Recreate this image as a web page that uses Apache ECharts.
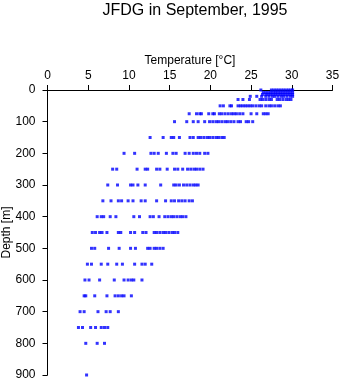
<!DOCTYPE html>
<html>
<head>
<meta charset="utf-8">
<script src="https://cdn.jsdelivr.net/npm/echarts@6/dist/echarts.min.js"></script>
<style>
html,body{margin:0;padding:0;background:#fff;}
#c{width:341px;height:384px;}
</style>
</head>
<body>
<div id="c"></div>
<script>
// Depth levels [m]
const depthLevels = [0, 8, 14, 20, 30, 50, 75, 100, 150, 200, 250, 300, 350, 400, 450, 500, 550, 600, 650, 700, 750, 800, 900];
// Temperatures [°C] observed at each depth level
const temp_0 = [26.2, 27.5, 27.8, 28.1, 28.4, 28.7, 29.0, 29.3, 29.6, 29.9, 30.1];
const temp_8 = [26.5, 26.8, 27.1, 27.4, 27.7, 28.0, 28.3, 28.6, 28.9, 29.2, 29.5, 29.8, 30.1];
const temp_14 = [26.4, 26.8, 27.1, 27.4, 27.7, 28.0, 28.3, 28.6, 28.9, 29.2, 29.5, 29.8, 30.1];
const temp_20 = [24.9, 25.7, 26.3, 26.8, 27.2, 27.6, 27.9, 28.3, 28.7, 29.0, 29.4, 29.8, 30.1];
const temp_30 = [23.4, 24.0, 24.8, 26.1, 26.4, 26.8, 27.2, 27.5, 28.2, 28.5, 28.9, 29.3, 29.6, 29.9];
const temp_50 = [21.2, 21.6, 22.4, 22.6, 23.4, 23.7, 24.0, 24.3, 24.6, 24.9, 25.2, 25.6, 26.0, 26.3, 26.8, 27.2, 27.5, 27.9, 28.3, 28.6];
const temp_75 = [17.4, 18.3, 18.7, 18.9, 19.8, 20.3, 20.5, 21.1, 21.4, 21.8, 22.2, 22.6, 22.9, 23.2, 23.6, 24.0, 25.0, 25.7, 26.5, 26.8, 27.1];
const temp_100 = [15.6, 17.1, 17.9, 18.5, 19.3, 19.9, 20.3, 20.7, 21.0, 21.4, 21.8, 22.1, 22.5, 22.9, 23.4, 23.7, 24.4, 24.7, 25.2];
const temp_150 = [12.6, 14.2, 15.2, 15.5, 16.2, 17.5, 17.9, 18.5, 18.8, 19.2, 19.6, 19.9, 20.3, 20.7, 21.0, 21.4, 21.7];
const temp_200 = [9.4, 10.7, 12.7, 13.1, 13.6, 14.6, 15.4, 15.8, 16.9, 17.4, 17.9, 18.3, 18.7, 19.3, 19.7];
const temp_250 = [8.0, 8.5, 11.0, 12.0, 12.3, 13.4, 13.8, 14.7, 15.6, 16.0, 16.6, 17.2, 17.6, 18.0, 18.3, 18.7, 19.1];
const temp_300 = [7.4, 8.6, 10.2, 10.5, 11.1, 12.0, 13.9, 15.5, 15.8, 16.2, 16.7, 17.1, 17.5, 17.9, 18.2, 18.5];
const temp_350 = [6.8, 7.8, 8.7, 9.1, 9.9, 10.5, 11.5, 12.0, 13.4, 14.5, 15.2, 15.6, 16.1, 16.5, 16.9, 17.4, 17.8];
const temp_400 = [6.1, 6.6, 6.9, 7.7, 8.4, 10.6, 11.3, 12.6, 13.0, 13.7, 14.4, 14.8, 15.2, 15.5, 15.9, 16.3, 16.6, 17.0];
const temp_450 = [5.5, 5.9, 6.4, 6.7, 7.3, 8.7, 9.0, 10.2, 10.7, 11.7, 12.1, 13.1, 13.4, 13.8, 14.2, 14.5, 14.9, 15.3, 15.6, 16.0];
const temp_500 = [5.4, 5.8, 7.5, 8.8, 10.2, 10.8, 12.3, 12.6, 13.1, 13.4, 13.8, 14.2];
const temp_550 = [4.9, 5.4, 6.6, 7.4, 8.5, 9.2, 10.7, 11.6, 12.0, 12.8];
const temp_600 = [4.6, 5.1, 6.4, 8.2, 9.4, 9.9, 10.3, 10.6, 11.6];
const temp_650 = [4.5, 4.7, 5.8, 7.3, 8.3, 8.7, 9.1, 9.4, 10.3];
const temp_700 = [4.0, 4.5, 6.2, 7.2, 7.7, 8.7];
const temp_750 = [3.8, 4.3, 5.3, 5.9, 6.6, 7.0, 7.4];
const temp_800 = [4.7, 6.1, 7.0];
const temp_900 = [4.8];

const tempsByLevel = [temp_0, temp_8, temp_14, temp_20, temp_30, temp_50, temp_75, temp_100, temp_150, temp_200,
  temp_250, temp_300, temp_350, temp_400, temp_450, temp_500, temp_550, temp_600, temp_650, temp_700,
  temp_750, temp_800, temp_900];

const points = [];
depthLevels.forEach((d, i) => { tempsByLevel[i].forEach(t => points.push([t, d])); });

const FONT = 'Liberation Sans';
const chart = echarts.init(document.getElementById('c'), null, {renderer: 'canvas'});
chart.setOption({
  animation: false,
  backgroundColor: '#ffffff',
  title: {
    text: 'JFDG in September, 1995',
    left: 190, top: -2, textAlign: 'center',
    textStyle: {fontFamily: FONT, fontSize: 16, fontWeight: 'normal', color: '#000'}
  },
  grid: {left: 47.5, right: 8.5, top: 90, bottom: 9, containLabel: false, outerBoundsMode: 'none'},
  xAxis: {
    type: 'value', position: 'top', min: 0, max: 35, interval: 5,
    name: 'Temperature [°C]', nameLocation: 'middle', nameGap: 23, nameMoveOverlap: false,
    nameTextStyle: {fontFamily: FONT, fontSize: 12, color: '#000'},
    axisLine: {show: true, onZero: false, lineStyle: {color: '#000', width: 1}},
    axisTick: {show: true, inside: false, length: 5, lineStyle: {color: '#000'}},
    axisLabel: {margin: 8, fontFamily: FONT, fontSize: 12, color: '#000'},
    splitLine: {show: false}
  },
  yAxis: {
    type: 'value', inverse: true, min: 0, max: 900, interval: 100,
    name: 'Depth [m]', nameLocation: 'middle', nameGap: 35, nameRotate: 90, nameMoveOverlap: false,
    nameTextStyle: {fontFamily: FONT, fontSize: 12, color: '#000'},
    axisLine: {show: true, onZero: false, lineStyle: {color: '#000', width: 1}},
    axisTick: {show: true, inside: false, length: 5, lineStyle: {color: '#000'}},
    axisLabel: {margin: 12, fontFamily: FONT, fontSize: 12, color: '#000'},
    splitLine: {show: false}
  },
  series: [{
    type: 'scatter',
    data: points,
    symbol: 'rect',
    symbolSize: 3,
    itemStyle: {color: '#0000ff'},
    silent: true
  }]
});
</script>
</body>
</html>
